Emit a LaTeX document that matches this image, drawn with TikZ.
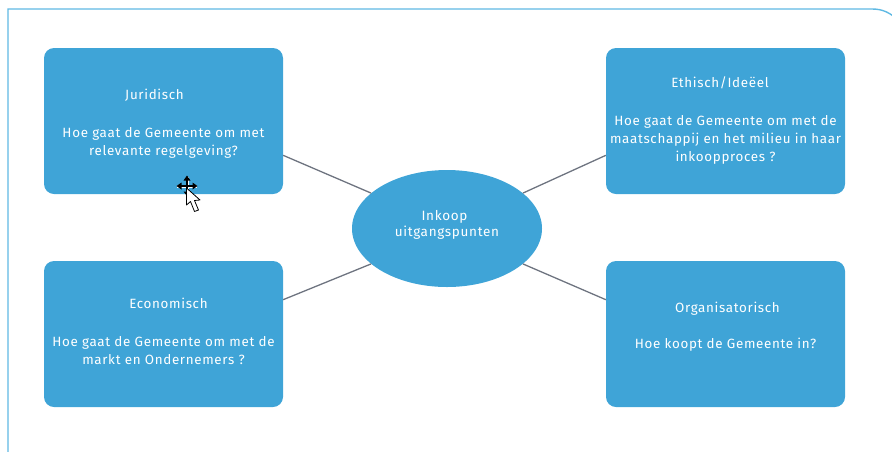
\documentclass[tikz,border=0pt]{standalone}
\usepackage{fontspec}
\setmainfont[LetterSpace=5]{Fira Sans}
\usetikzlibrary{shapes.geometric}
\definecolor{boxblue}{HTML}{3FA4D7}
\definecolor{framblue}{HTML}{5FB9E3}
\definecolor{linkgrey}{HTML}{6E7480}
\newcommand{\pushdown}[1]{\rule{0pt}{#1}}
\newcommand{\pushup}[1]{\rule[-#1]{0pt}{0pt}}
\tikzset{
  infobox/.style={draw=none,fill=boxblue,rounded corners=10pt,minimum width=239pt,minimum height=146pt,inner sep=0pt,text=white,align=center,font=\fontsize{13.4}{18}\selectfont},
  hub/.style={ellipse,fill=boxblue,minimum width=190pt,minimum height=117pt,inner sep=0pt,text=white,align=center,font=\fontsize{13.5}{16}\selectfont},
  link/.style={draw=linkgrey,line width=1.3pt},
}
\begin{document}
\begin{tikzpicture}[x=1pt,y=-1pt]
\useasboundingbox (0,0) rectangle (892,451);
\draw[framblue,line width=1.4pt] (8,460) -- (8,9) -- (872,9) .. controls (882,9) and (890,12) .. (900,22);
\node[infobox] (jur) at (163.5,121) {\pushdown{16pt}Juridisch\hspace*{18pt}\\[20pt]Hoe gaat de Gemeente om met\\relevante regelgeving?};
\node[infobox] (eth) at (725.5,121) {\pushdown{8pt}Ethisch/Ideëel\hspace*{11pt}\\[20pt]Hoe gaat de Gemeente om met de\\maatschappij en het milieu in haar\\inkoopproces ?};
\node[infobox] (eco) at (163.5,334) {\hspace*{10pt}Economisch\\[20pt]Hoe gaat de Gemeente om met de\\markt en Ondernemers ?\pushup{5pt}};
\node[infobox] (org) at (725.5,334) {\hspace*{4pt}Organisatorisch\\[18pt]Hoe koopt de Gemeente in?\pushup{18pt}};
\node[hub] (hub) at (447,228.5) {Inkoop\hspace*{5pt}\\uitgangspunten\pushup{10pt}};
\draw[link] (jur.-16) -- (hub.155);
\draw[link] (eth.196) -- (hub.25);
\draw[link] (eco.16) -- (hub.205);
\draw[link] (org.164) -- (hub.335);
% mouse cursor
\draw[white,line width=3pt] (187,177) -- (187,195) (177,186) -- (197,186);
\draw[black,line width=1.1pt] (187,179) -- (187,193) (179,186) -- (195,186);
\fill[black] (187,175.5) -- (183.5,180.5) -- (190.5,180.5) -- cycle
  (187,196) -- (183.5,191.5) -- (190.5,191.5) -- cycle
  (176.5,186) -- (181.5,182.5) -- (181.5,189.5) -- cycle
  (197.5,186) -- (192.5,182.5) -- (192.5,189.5) -- cycle;
\draw[black,fill=white,line width=0.8pt,line join=round] (186.5,188) -- (186.5,205) -- (190.5,201.5) -- (194.5,211.5) -- (198.5,210) -- (194.5,200.5) -- (200,200) -- cycle;
\end{tikzpicture}
\end{document}
